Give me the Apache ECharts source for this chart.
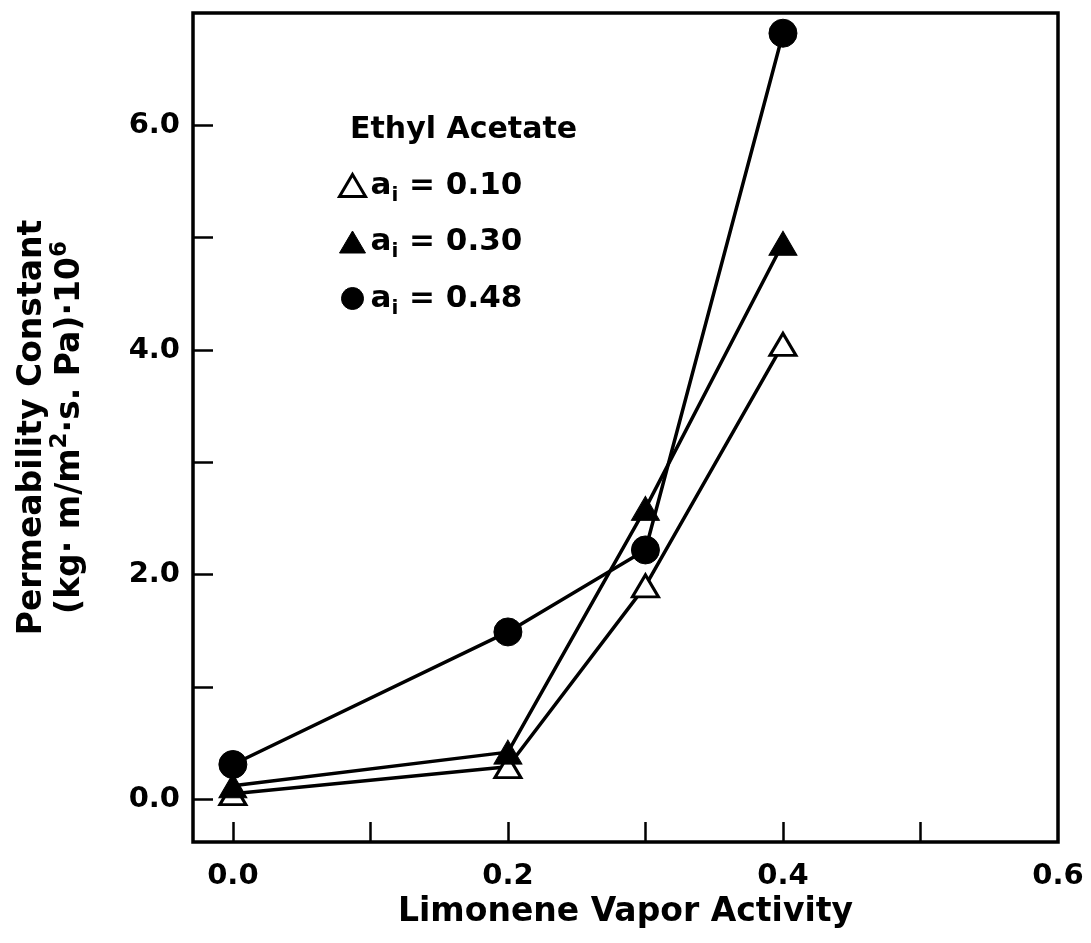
<!DOCTYPE html>
<html>
<head>
<meta charset="utf-8">
<script src="https://cdn.jsdelivr.net/npm/echarts@6/dist/echarts.min.js"></script>
<style>
html,body{margin:0;padding:0;background:#fff;}
#chart{width:1091px;height:943px;}
</style>
</head>
<body>
<div id="chart"></div>
<script>
// Limonene vapor activity (x) vs permeability constant (y)
const xValues = [0.0, 0.2, 0.3, 0.4];
const seriesA010 = [0.05, 0.29, 1.90, 4.05];   // open triangle, a_i = 0.10
const seriesA030 = [0.12, 0.42, 2.59, 4.95];   // filled triangle, a_i = 0.30
const seriesA048 = [0.31, 1.49, 2.22, 6.82];   // filled circle, a_i = 0.48
const seriesNames = ['0.10', '0.30', '0.48'];
const xTickValues = [0, 0.1, 0.2, 0.3, 0.4, 0.5];
const xLabelValues = [0, 0.2, 0.4, 0.6];
const yTickValues = [0, 1, 2, 3, 4, 5, 6];
const yLabelValues = [0, 2, 4, 6];
const legendTitle = 'Ethyl Acetate';
const xTitle = 'Limonene Vapor Activity';
const yTitle = 'Permeability Constant\n(kg· m/m{sup|2}·s. Pa)·10{sup|6}';

const FONT = 'DejaVu Sans';
const pairs = ys => xValues.map((x, i) => [x, ys[i]]);

const chart = echarts.init(document.getElementById('chart'), null, {renderer: 'canvas'});
const lineStyle = {color: '#000', width: 3.5};
chart.setOption({
  animation: false,
  backgroundColor: '#fff',
  title: {
    text: legendTitle, left: 345, top: 110,
    textStyle: {fontFamily: FONT, fontWeight: 'bold', fontSize: 30, color: '#000'}
  },
  legend: {
    orient: 'vertical', left: 333, top: 165,
    itemWidth: 26, itemHeight: 22, itemGap: 21,
    data: [
      {name: seriesNames[0], icon: 'triangle', itemStyle: {color: '#fff', borderColor: '#000', borderWidth: 3}},
      {name: seriesNames[1], icon: 'triangle', itemStyle: {color: '#000', borderColor: '#000', borderWidth: 1}},
      {name: seriesNames[2], icon: 'circle', itemStyle: {color: '#000', borderColor: '#000', borderWidth: 1}}
    ],
    formatter: n => '{a|a}{sub|i}{a| = ' + n + '}',
    textStyle: {
      fontFamily: FONT, fontWeight: 'bold', fontSize: 31, color: '#000',
      rich: {
        a: {fontFamily: FONT, fontWeight: 'bold', fontSize: 31, color: '#000'},
        sub: {fontFamily: FONT, fontWeight: 'bold', fontSize: 20, color: '#000', padding: [20, 0, 0, 0]}
      }
    }
  },
  grid: {
    left: 193, right: 33, top: 13, bottom: 101,
    show: true, borderColor: '#000', borderWidth: 3.5, backgroundColor: 'transparent'
  },
  xAxis: {
    type: 'value', min: -0.029, max: 0.6,
    axisLine: {show: false, onZero: false},
    splitLine: {show: false},
    axisTick: {show: true, inside: true, length: 20, lineStyle: {color: '#000', width: 2.5}, customValues: xTickValues},
    axisLabel: {
      customValues: xLabelValues, formatter: v => v.toFixed(1), margin: 20,
      showMaxLabel: true, showMinLabel: true,
      fontFamily: FONT, fontWeight: 'bold', fontSize: 29, color: '#000'
    },
    name: xTitle, nameLocation: 'middle', nameGap: 48,
    nameTextStyle: {fontFamily: FONT, fontWeight: 'bold', fontSize: 33, color: '#000'}
  },
  yAxis: {
    type: 'value', min: -0.38, max: 7.0,
    axisLine: {show: false, onZero: false},
    splitLine: {show: false},
    axisTick: {show: true, inside: true, length: 20, lineStyle: {color: '#000', width: 2.5}, customValues: yTickValues},
    axisLabel: {
      customValues: yLabelValues, formatter: v => v.toFixed(1), margin: 13,
      fontFamily: FONT, fontWeight: 'bold', fontSize: 29, color: '#000'
    },
    name: yTitle, nameLocation: 'middle', nameRotate: 90, nameGap: 104,
    nameTextStyle: {
      fontFamily: FONT, fontWeight: 'bold', fontSize: 33, color: '#000', lineHeight: 38, align: 'center',
      rich: {
        sup: {fontFamily: FONT, fontWeight: 'bold', fontSize: 23, color: '#000', padding: [0, 0, 20, 0]}
      }
    }
  },
  series: [
    {
      name: seriesNames[0], type: 'line', data: pairs(seriesA010), z: 2,
      symbol: 'triangle', symbolSize: [26, 22], lineStyle,
      itemStyle: {color: '#fff', borderColor: '#000', borderWidth: 3}
    },
    {
      name: seriesNames[1], type: 'line', data: pairs(seriesA030), z: 3,
      symbol: 'triangle', symbolSize: [28, 24], lineStyle,
      itemStyle: {color: '#000', borderColor: '#000', borderWidth: 1}
    },
    {
      name: seriesNames[2], type: 'line', data: pairs(seriesA048), z: 4,
      symbol: 'circle', symbolSize: 28, lineStyle,
      itemStyle: {color: '#000', borderColor: '#000', borderWidth: 1}
    }
  ]
});
</script>
</body>
</html>
